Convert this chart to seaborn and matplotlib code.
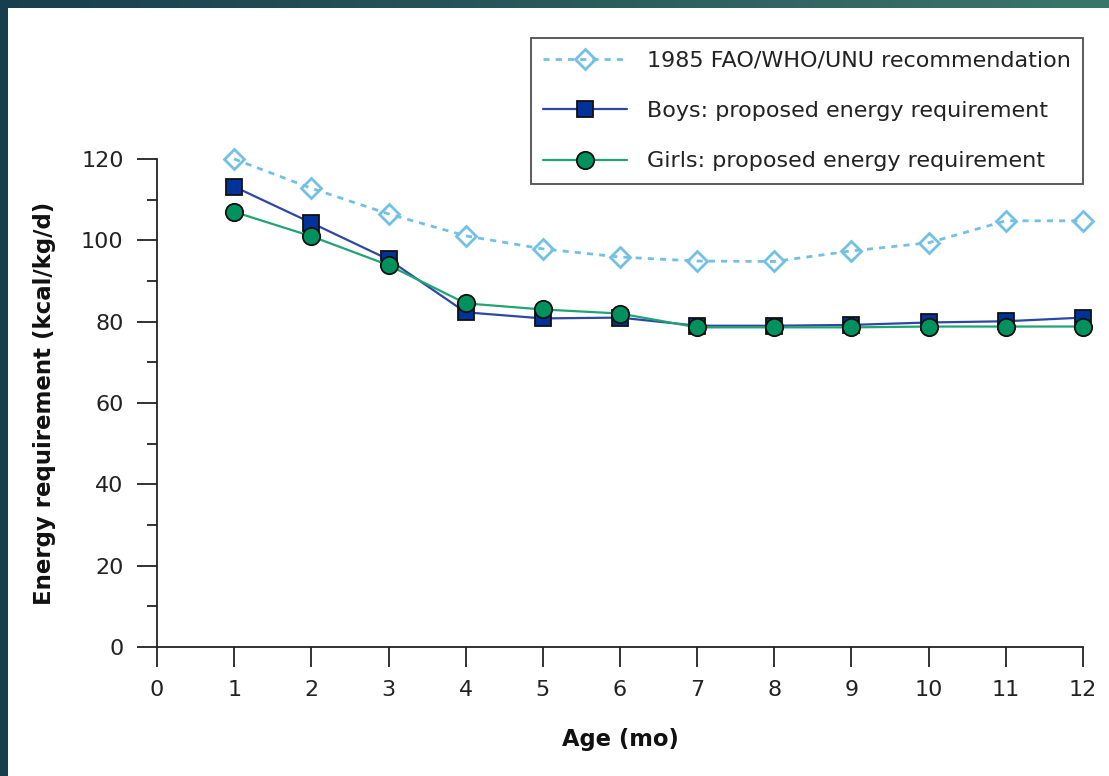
import numpy as np
import pandas as pd
import matplotlib
matplotlib.use("Agg")
import matplotlib.pyplot as plt
import seaborn as sns
from matplotlib.patches import Rectangle
from matplotlib.ticker import MultipleLocator

# ---- data ----
age_months = [1, 2, 3, 4, 5, 6, 7, 8, 9, 10, 11, 12]
fao_1985 = [120, 112.8, 106.5, 101.1, 97.9, 95.9, 94.9, 94.8, 97.4, 99.4, 104.8, 104.8]
boys_req = [113.2, 104.3, 95.3, 82.3, 80.8, 81.0, 79.0, 79.0, 79.2, 79.8, 80.1, 81.0]
girls_req = [107.0, 101.0, 93.9, 84.5, 83.0, 82.0, 78.6, 78.6, 78.6, 78.8, 78.8, 78.8]
series_names = ["1985 FAO/WHO/UNU recommendation",
                "Boys: proposed energy requirement",
                "Girls: proposed energy requirement"]
x_ticks = list(range(0, 13))
y_ticks = [0, 20, 40, 60, 80, 100, 120]

df = pd.DataFrame({
    "age": age_months * 3,
    "value": fao_1985 + boys_req + girls_req,
    "series": [series_names[0]] * 12 + [series_names[1]] * 12 + [series_names[2]] * 12,
})

sns.set_theme(style="white")
plt.rcParams["font.family"] = ["DejaVu Sans"]

W, H = 1109, 776
fig = plt.figure(figsize=(W / 100, H / 100), dpi=100)

# background gradient frame
gx = np.linspace(0, 1, W)[None, :]
gy = np.linspace(0, 1, H)[:, None]
c0 = np.array([0x17, 0x3e, 0x4d]) / 255
c1 = np.array([0x3c, 0x76, 0x6a]) / 255
t = np.clip(gx * (1 - 0.6 * gy), 0, 1)
bg = c0[None, None, :] * (1 - t[..., None]) + c1[None, None, :] * t[..., None]
fig.figimage(bg, xo=0, yo=0, origin="upper", zorder=0)
fig.patches.append(Rectangle((8 / W, 0), 1 - 8 / W, 1 - 8 / H, transform=fig.transFigure,
                             facecolor="white", edgecolor="none", zorder=0.5))

ax_l, ax_r, ax_t, ax_b = 157, 1083, 159, 647
ax = fig.add_axes([ax_l / W, 1 - ax_b / H, (ax_r - ax_l) / W, (ax_b - ax_t) / H])
ax.set_zorder(2)
ax.set_facecolor("none")

styles = [
    dict(color="#72c0e4", linestyle=(0, (2.2, 2.2)), linewidth=2.0, marker="D",
         markersize=10.5, markerfacecolor="none", markeredgecolor="#72c0e4", markeredgewidth=2.0),
    dict(color="#2d47a6", linestyle="-", linewidth=1.6, marker="s",
         markersize=11.5, markerfacecolor="#003399", markeredgecolor="#111111", markeredgewidth=1.3),
    dict(color="#1fa472", linestyle="-", linewidth=1.6, marker="o",
         markersize=12.5, markerfacecolor="#00915e", markeredgecolor="#111111", markeredgewidth=1.3),
]
for name, st in zip(series_names, styles):
    sub = df[df["series"] == name]
    sns.lineplot(data=sub, x="age", y="value", ax=ax, label=name, clip_on=False, **st)

ax.set_xlim(0, 12)
ax.set_ylim(0, 120)
ax.set_xticks(x_ticks)
ax.set_yticks(y_ticks)
ax.yaxis.set_minor_locator(MultipleLocator(10))
for s in ["top", "right"]:
    ax.spines[s].set_visible(False)
for s in ["left", "bottom"]:
    ax.spines[s].set_color("#222222")
    ax.spines[s].set_linewidth(1.3)
ax.tick_params(axis="both", which="major", direction="out", length=14.5, width=1.3,
               color="#222222", labelsize=16, labelcolor="#222222", left=True, bottom=True)
ax.tick_params(axis="x", pad=9.5)
ax.tick_params(axis="y", pad=9.5)
ax.tick_params(axis="y", which="minor", direction="out", length=7, width=1.3, color="#222222", left=True)

ax.set_xlabel("Age (mo)", fontsize=16.3, fontweight="bold", color="#111111", labelpad=20)
ax.set_ylabel("Energy requirement (kcal/kg/d)", fontsize=16.5, fontweight="bold",
              color="#111111", labelpad=18)

leg = ax.legend(loc="upper right", bbox_to_anchor=(1.0, (ax_b - 38) / (ax_b - ax_t)),
                borderaxespad=0, frameon=True, fancybox=False, fontsize=16,
                handlelength=3.75, handletextpad=0.9, labelspacing=1.37,
                borderpad=0.56, edgecolor="#222222")
leg.get_frame().set_linewidth(1.3)
for txt in leg.get_texts():
    txt.set_color("#222222")

fig.savefig("out.png", dpi=100, facecolor=fig.get_facecolor())
